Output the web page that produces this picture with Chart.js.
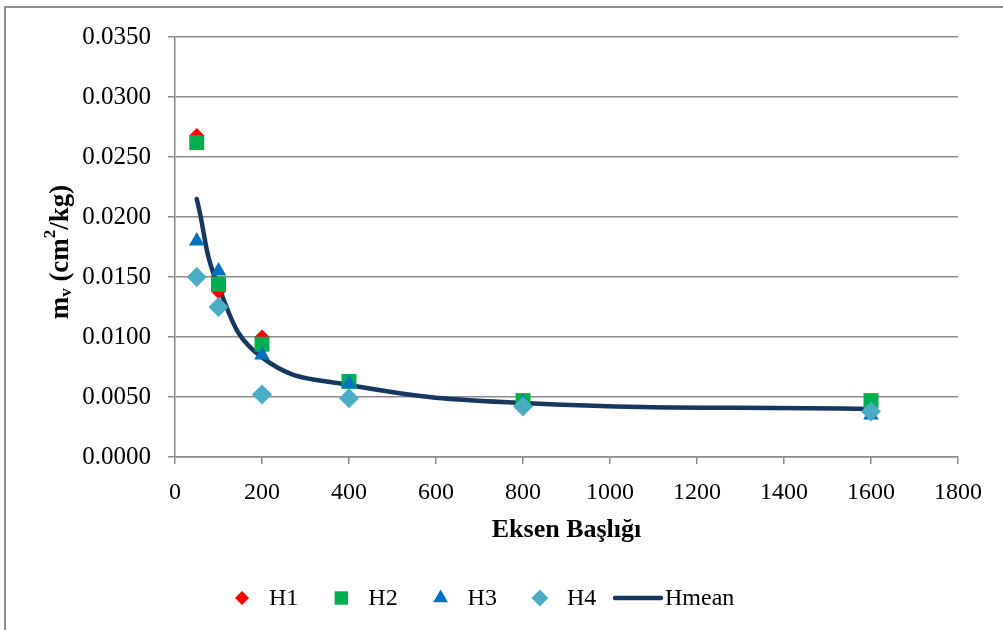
<!DOCTYPE html>
<html>
<head>
<meta charset="utf-8">
<script src="https://cdn.jsdelivr.net/npm/chart.js@4/dist/chart.umd.min.js"></script>
<style>
  html, body { margin: 0; padding: 0; background: #ffffff; }
  #wrap { width: 1003px; height: 630px; position: relative; }
</style>
</head>
<body>
<div id="wrap"><canvas id="c" width="1003" height="630"></canvas></div>
<script>
// Loading stage (kPa) and coefficient of volume compressibility per specimen
const pressure = [50, 100, 200, 400, 800, 1600];
const H1 = [0.0268, 0.0138, 0.0100, 0.0062, 0.0046, 0.0040];
const H2 = [0.0262, 0.0144, 0.0094, 0.0063, 0.0047, 0.0047];
const H3 = [0.0180, 0.0155, 0.0085, 0.0061, 0.0045, 0.0035];
const H4 = [0.0150, 0.0125, 0.0052, 0.0049, 0.0042, 0.0038];
const Hmean = [0.0215, 0.0142, 0.0083, 0.0060, 0.0045, 0.0040];

const seriesNames = ['H1', 'H2', 'H3', 'H4', 'Hmean'];
const xTitle = 'Eksen Başlığı';

const FONT = '"Liberation Serif", "Times New Roman", serif';
const GRID = '#8a8a8a';

const toPoints = arr => pressure.map((p, i) => ({ x: p, y: arr[i] }));

const datasets = [
  { label: seriesNames[0], data: toPoints(H1), showLine: false, pointStyle: 'rectRot',
    pointRadius: 7.5, backgroundColor: '#FF0000', borderColor: '#FF0000', borderWidth: 0, order: 4 },
  { label: seriesNames[1], data: toPoints(H2), showLine: false, pointStyle: 'rect',
    pointRadius: 10.6, backgroundColor: '#00B050', borderColor: '#00B050', borderWidth: 0, order: 3 },
  { label: seriesNames[2], data: toPoints(H3), showLine: false, pointStyle: 'triangle',
    pointRadius: 9, backgroundColor: '#0070C0', borderColor: '#0070C0', borderWidth: 0, order: 2 },
  { label: seriesNames[3], data: toPoints(H4), showLine: false, pointStyle: 'rectRot',
    pointRadius: 10, backgroundColor: '#4BACC6', borderColor: '#4BACC6', borderWidth: 0, order: 1 },
  { label: seriesNames[4], data: toPoints(Hmean), showLine: true, pointRadius: 0,
    borderColor: '#17375E', backgroundColor: '#17375E', borderWidth: 4.5,
    tension: 0.45, borderCapStyle: 'round', borderJoinStyle: 'round', order: 5 }
];

// simple marker painter for the legend
function drawMarker(ctx, style, x, y, r, color) {
  ctx.save();
  ctx.fillStyle = color;
  ctx.beginPath();
  if (style === 'rectRot') {
    ctx.moveTo(x, y - r); ctx.lineTo(x + r, y); ctx.lineTo(x, y + r); ctx.lineTo(x - r, y);
  } else if (style === 'rect') {
    const s = r * Math.SQRT1_2;
    ctx.rect(x - s, y - s, 2 * s, 2 * s);
  } else if (style === 'triangle') {
    const h = r * Math.sqrt(3) / 2;
    ctx.moveTo(x, y - r); ctx.lineTo(x + h, y + r / 2); ctx.lineTo(x - h, y + r / 2);
  }
  ctx.closePath();
  ctx.fill();
  ctx.restore();
}

const framePlugin = {
  id: 'frame',
  beforeDraw(chart) {
    const ctx = chart.ctx;
    ctx.save();
    ctx.fillStyle = '#ffffff';
    ctx.fillRect(0, 0, chart.width, chart.height);
    ctx.strokeStyle = '#8c8c8c';
    ctx.lineWidth = 2;
    ctx.strokeRect(5, 7, chart.width + 20, chart.height + 20);
    ctx.restore();
  }
};

// axis titles: y title carries a subscript v and a superscript 2
const titlesPlugin = {
  id: 'axisTitles',
  afterDraw(chart) {
    const ctx = chart.ctx;
    const area = chart.chartArea;
    const big = 'bold 27px ' + FONT;
    const small = 'bold 17px ' + FONT;
    const parts = [
      { t: 'm', f: big, dy: 0 },
      { t: 'v', f: small, dy: 6 },
      { t: ' (cm', f: big, dy: 0 },
      { t: '2', f: small, dy: -10 },
      { t: '/kg)', f: big, dy: 0 }
    ];
    let total = 0;
    parts.forEach(p => { ctx.font = p.f; p.w = ctx.measureText(p.t).width; total += p.w; });
    ctx.save();
    ctx.translate(61, 252);
    ctx.rotate(-Math.PI / 2);
    ctx.fillStyle = '#000000';
    ctx.textBaseline = 'middle';
    let x = -total / 2;
    parts.forEach(p => {
      ctx.font = p.f;
      ctx.fillText(p.t, x, p.dy);
      x += p.w;
    });
    ctx.restore();

    ctx.save();
    ctx.font = 'bold 26px ' + FONT;
    ctx.fillStyle = '#000000';
    ctx.textAlign = 'center';
    ctx.textBaseline = 'middle';
    ctx.fillText(xTitle, (area.left + area.right) / 2, 530);
    ctx.restore();
  }
};

const legendPlugin = {
  id: 'bottomLegend',
  afterDraw(chart) {
    const ctx = chart.ctx;
    ctx.save();
    ctx.font = '24px ' + FONT;
    ctx.textBaseline = 'middle';
    const y = 598;
    let x = 242;
    chart.data.datasets.forEach(ds => {
      if (ds.showLine) {
        ctx.strokeStyle = ds.borderColor;
        ctx.lineWidth = 4.5;
        ctx.lineCap = 'round';
        ctx.beginPath();
        ctx.moveTo(x + 2, y);
        ctx.lineTo(x + 48, y);
        ctx.stroke();
        ctx.fillStyle = '#000000';
        ctx.fillText(ds.label, x + 52, y + 1);
      } else {
        const r = ds.pointStyle === 'rectRot' ? (ds.label === 'H1' ? 7 : 8.5)
                : ds.pointStyle === 'rect' ? 9.5 : 8.5;
        drawMarker(ctx, ds.pointStyle, x, y, r, ds.backgroundColor);
        ctx.fillStyle = '#000000';
        ctx.fillText(ds.label, x + 27, y + 1);
        x += 99.3;
        if (x > 600) x = 613;
      }
    });
    ctx.restore();
  }
};

new Chart(document.getElementById('c'), {
  type: 'scatter',
  data: { datasets },
  plugins: [framePlugin, titlesPlugin, legendPlugin],
  options: {
    responsive: false,
    animation: false,
    events: [],
    layout: { padding: { top: 37, right: 45, left: 0, bottom: 0 } },
    plugins: { legend: { display: false }, tooltip: { enabled: false } },
    scales: {
      x: {
        type: 'linear', min: 0, max: 1800,
        afterFit(scale) { scale.height = 173; },
        ticks: { stepSize: 200, color: '#000000', font: { family: FONT, size: 24 }, padding: 14,
                 maxRotation: 0, autoSkip: false, callback: v => String(v) },
        grid: { drawOnChartArea: false, drawTicks: true, tickLength: 7, color: GRID, lineWidth: 1.5 },
        border: { color: GRID, width: 1.5 }
      },
      y: {
        type: 'linear', min: 0, max: 0.035,
        afterFit(scale) { scale.width = 175; },
        ticks: { stepSize: 0.005, color: '#000000', font: { family: FONT, size: 25 }, padding: 17,
                 callback: v => v.toFixed(4) },
        grid: { color: GRID, lineWidth: 1.5, drawTicks: true, tickLength: 7 },
        border: { color: GRID, width: 1.5 }
      }
    }
  }
});
</script>
</body>
</html>
